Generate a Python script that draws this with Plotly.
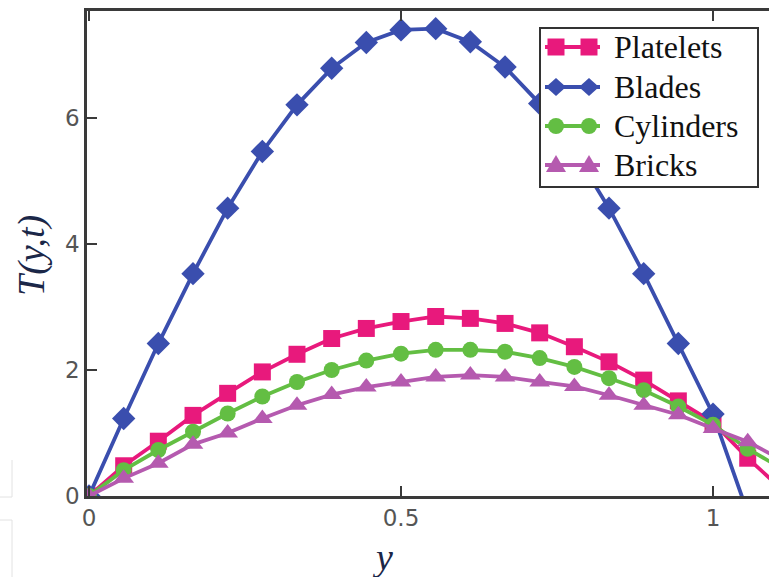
import plotly.graph_objects as go

# Position across the channel
y_pos = [0, 0.0556, 0.1111, 0.1667, 0.2222, 0.2778, 0.3333, 0.3889, 0.4444,
         0.5, 0.5556, 0.6111, 0.6667, 0.7222, 0.7778, 0.8333, 0.8889, 0.9444,
         1.0, 1.0556, 1.1111]

# Temperature profiles T(y,t) for each nanoparticle shape
platelets = [0, 0.48, 0.87, 1.28, 1.63, 1.97, 2.25, 2.50, 2.66, 2.77, 2.85,
             2.82, 2.74, 2.59, 2.37, 2.13, 1.84, 1.51, 1.17, 0.60, 0.10]
blades = [0, 1.23, 2.42, 3.53, 4.57, 5.47, 6.21, 6.79, 7.20, 7.40, 7.42,
          7.21, 6.81, 6.23, 5.47, 4.57, 3.53, 2.42, 1.30, -0.27, -1.90]
cylinders = [0, 0.41, 0.73, 1.02, 1.31, 1.58, 1.81, 2.00, 2.15, 2.26, 2.32,
             2.32, 2.29, 2.19, 2.05, 1.87, 1.68, 1.42, 1.13, 0.75, 0.43]
bricks = [0, 0.28, 0.52, 0.82, 1.00, 1.23, 1.44, 1.61, 1.73, 1.81, 1.89,
          1.92, 1.89, 1.81, 1.74, 1.60, 1.44, 1.29, 1.07, 0.86, 0.57]

names = ["Platelets", "Blades", "Cylinders", "Bricks"]
colors = ["#E8197C", "#3A4EAE", "#63BE43", "#B55AAF"]
symbols = ["square", "diamond", "circle", "triangle-up"]
sizes = [17, 18, 16, 18]
values = [platelets, blades, cylinders, bricks]

y_ticks = [0, 2, 4, 6]
x_ticks = [0, 0.5, 1]
x_tick_text = ["0", "0.5", "1"]

W, H = 769, 577
ML, MR, MT, MB = 87, 0, 11, 81
PW, PH = W - ML - MR, H - MT - MB


def fx(px):
    """Pixel column -> paper x."""
    return (px - ML) / PW


def fy(py):
    """Pixel row -> paper y."""
    return (H - MB - py) / PH


fig = go.Figure()
for name, vals, color, symbol, size in zip(names, values, colors, symbols, sizes):
    fig.add_trace(go.Scatter(
        x=y_pos, y=vals, name=name, mode="lines+markers",
        line=dict(color=color, width=3.8),
        marker=dict(symbol=symbol, size=size, color=color, line=dict(width=0)),
        showlegend=False,
    ))

axis_line = "#3a3a3a"
tick_font = dict(family="DejaVu Sans", size=23, color="#555555")
serif = "Liberation Serif"
title_color = "#1b2748"

# Boxed key: a short line with two markers per series, label on the right
shapes = []
annotations = []
box = dict(x0=540, x1=758, y0=28, y1=187)
shapes.append(dict(type="rect", xref="paper", yref="paper", layer="above",
                   x0=fx(box["x0"]), x1=fx(box["x1"]),
                   y0=fy(box["y1"]), y1=fy(box["y0"]),
                   fillcolor="white", line=dict(color="#333333", width=2)))
row_centers = [47, 87, 126, 165]
for name, color, symbol, cy in zip(names, colors, symbols, row_centers):
    shapes.append(dict(type="line", xref="paper", yref="paper", layer="above",
                       x0=fx(545), x1=fx(600), y0=fy(cy), y1=fy(cy),
                       line=dict(color=color, width=3.8)))
    for cx in (556, 589):
        if symbol == "square":
            shapes.append(dict(type="rect", xref="paper", yref="paper", layer="above",
                               x0=fx(cx - 8.5), x1=fx(cx + 8.5),
                               y0=fy(cy + 8.5), y1=fy(cy - 8.5),
                               fillcolor=color, line=dict(width=0)))
        elif symbol == "circle":
            shapes.append(dict(type="circle", xref="paper", yref="paper", layer="above",
                               x0=fx(cx - 8), x1=fx(cx + 8),
                               y0=fy(cy + 8), y1=fy(cy - 8),
                               fillcolor=color, line=dict(width=0)))
        elif symbol == "diamond":
            pts = [(cx - 10, cy), (cx, cy - 9), (cx + 10, cy), (cx, cy + 9)]
            path = "M" + "L".join(f"{fx(a):.5f},{fy(b):.5f}" for a, b in pts) + "Z"
            shapes.append(dict(type="path", xref="paper", yref="paper", layer="above",
                               path=path, fillcolor=color, line=dict(width=0)))
        else:
            pts = [(cx, cy - 10), (cx + 10, cy + 7), (cx - 10, cy + 7)]
            path = "M" + "L".join(f"{fx(a):.5f},{fy(b):.5f}" for a, b in pts) + "Z"
            shapes.append(dict(type="path", xref="paper", yref="paper", layer="above",
                               path=path, fillcolor=color, line=dict(width=0)))
    annotations.append(dict(text=name, xref="paper", yref="paper",
                            x=fx(612), y=fy(cy), xanchor="left", yanchor="middle",
                            showarrow=False,
                            font=dict(family=serif, size=32, color="#111111")))

# Faint frame edges at the lower-left corner of the page
for x0, y0, x1, y1 in [(12, 460, 12, 497), (0, 497, 12, 497),
                       (0, 520, 12, 520), (12, 520, 12, 577)]:
    shapes.append(dict(type="line", xref="paper", yref="paper", layer="below",
                       x0=fx(x0), x1=fx(x1), y0=fy(y0), y1=fy(y1),
                       line=dict(color="#e2e2e2", width=1)))

annotations += [
    dict(text="<i>T(y,t)</i>", xref="paper", yref="paper",
         x=fx(31), y=fy(256), xanchor="center", yanchor="middle",
         textangle=-90, showarrow=False,
         font=dict(family=serif, size=38, color=title_color)),
    dict(text="<i>y</i>", xref="paper", yref="paper",
         x=fx(382), y=fy(580), xanchor="center", yanchor="bottom",
         showarrow=False,
         font=dict(family=serif, size=38, color=title_color)),
]

fig.update_layout(
    width=W, height=H,
    margin=dict(l=ML, r=MR, t=MT, b=MB),
    paper_bgcolor="white", plot_bgcolor="white",
    xaxis=dict(
        range=[-0.0032, 1.0897], tickvals=x_ticks, ticktext=x_tick_text,
        ticks="inside", ticklen=10, tickwidth=2, tickcolor=axis_line,
        showline=True, linecolor=axis_line, linewidth=2.5, mirror="ticks",
        showgrid=False, zeroline=False, tickfont=tick_font,
    ),
    yaxis=dict(
        range=[0, 7.7], tickvals=y_ticks,
        ticks="inside", ticklen=10, tickwidth=2, tickcolor=axis_line,
        showline=True, linecolor=axis_line, linewidth=2.5, mirror=False,
        showgrid=False, zeroline=False, tickfont=tick_font,
    ),
    yaxis2=dict(
        overlaying="y", side="right", range=[0, 7.7], tickvals=y_ticks,
        ticks="inside", ticklen=8, tickwidth=2, tickcolor=axis_line,
        showticklabels=False, showline=False, showgrid=False, zeroline=False,
    ),
    shapes=shapes,
    annotations=annotations,
)

fig.write_html("out.html")
